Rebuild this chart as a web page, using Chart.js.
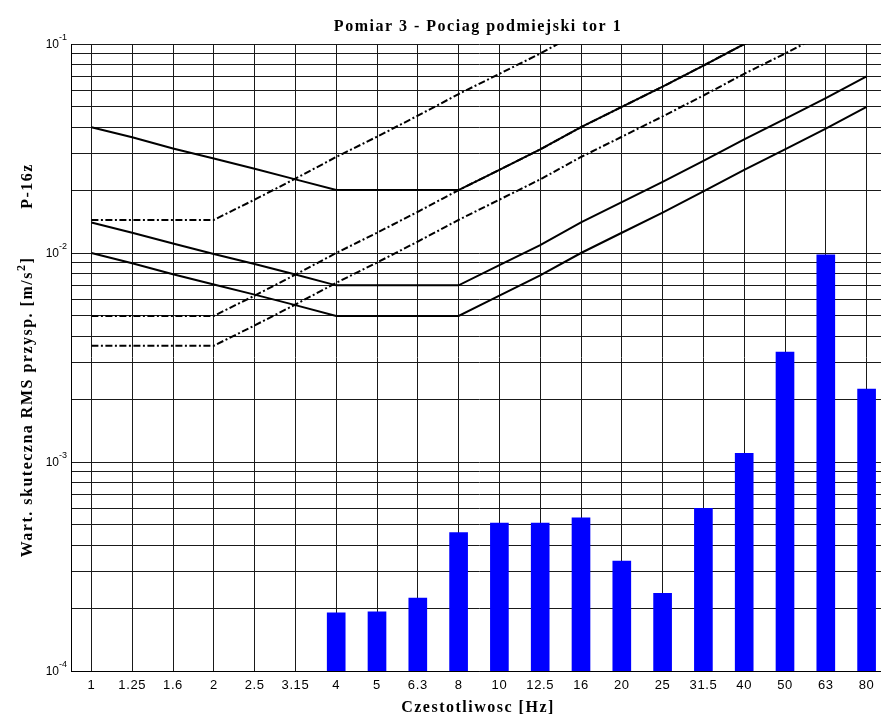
<!DOCTYPE html>
<html lang="pl">
<head>
<meta charset="UTF-8">
<title>Pomiar 3 - Pociag podmiejski tor 1</title>
<style>
  html, body { margin: 0; padding: 0; background: #fff; overflow: hidden; }
  #wrap { width: 890px; height: 720px; }
</style>
<script src="https://cdn.jsdelivr.net/npm/chart.js"></script>
</head>
<body>
<div id="wrap"><canvas id="chart" width="890" height="720"></canvas></div>
<script>
// third-octave bands [Hz]
const freqLabels = ['1', '1.25', '1.6', '2', '2.5', '3.15', '4', '5', '6.3', '8',
                    '10', '12.5', '16', '20', '25', '31.5', '40', '50', '63', '80'];

// measured RMS acceleration [m/s^2]
const measured = [null, null, null, null, null, null,
                  1.90e-4, 1.92e-4, 2.23e-4, 4.6e-4, 5.1e-4, 5.1e-4, 5.4e-4,
                  3.36e-4, 2.35e-4, 6.0e-4, 1.10e-3, 3.36e-3, 9.8e-3, 2.23e-3];

// limit curves, solid
const curveZ1 = [0.01, 0.00894, 0.00791, 0.00707, 0.00632, 0.00563, 0.005, 0.005, 0.005, 0.005,
                 0.00625, 0.00781, 0.01, 0.0125, 0.0156, 0.0197, 0.025, 0.0313, 0.0394, 0.05];
const curveZ14 = [0.014, 0.0125, 0.0111, 0.0099, 0.00885, 0.00789, 0.007, 0.007, 0.007, 0.007,
                  0.00875, 0.0109, 0.014, 0.0175, 0.0219, 0.0276, 0.035, 0.0438, 0.0551, 0.07];
const curveZ4 = [0.04, 0.0358, 0.0316, 0.0283, 0.0253, 0.0225, 0.02, 0.02, 0.02, 0.02,
                 0.025, 0.0313, 0.04, 0.05, 0.0625, 0.0788, 0.1, 0.125, 0.1575, 0.2];

// limit curves, dash-dot
const curveXY1 = [0.0036, 0.0036, 0.0036, 0.0036, 0.0045, 0.00567, 0.0072, 0.009, 0.01134, 0.0144,
                  0.018, 0.0225, 0.0288, 0.036, 0.045, 0.0567, 0.072, 0.09, 0.1134, 0.144];
const curveXY14 = [0.005, 0.005, 0.005, 0.005, 0.00625, 0.00788, 0.01, 0.0125, 0.01575, 0.02,
                   0.025, 0.0313, 0.04, 0.05, 0.0625, 0.0788, 0.1, 0.125, 0.1575, 0.2];
const curveXY4 = [0.0144, 0.0144, 0.0144, 0.0144, 0.018, 0.0227, 0.0288, 0.036, 0.0454, 0.0576,
                  0.072, 0.09, 0.115, 0.144, 0.18, 0.227, 0.288, 0.36, 0.454, 0.576];

// log grid: 1..9 per decade
const yTicks = [];
for (let e = -4; e < -1; e++) {
  for (let m = 1; m < 10; m++) yTicks.push(m * Math.pow(10, e));
}
yTicks.push(0.1);
const yDecades = [-1, -2, -3, -4];

const titleText = 'Pomiar 3 - Pociag podmiejski tor 1';
const xTitleText = 'Czestotliwosc [Hz]';
const sideText = 'P-16z';

const serif = '"Liberation Serif", "Times New Roman", serif';
const sans = '"Liberation Sans", Arial, sans-serif';

function lineSet(data, dashed) {
  return {
    type: 'line',
    data: data,
    borderColor: '#000',
    borderWidth: 2,
    borderDash: dashed ? [7, 2.5, 2, 2.5] : [],
    pointRadius: 0,
    fill: false,
    tension: 0,
    order: 0
  };
}

const decor = {
  id: 'decor',
  beforeDraw(chart) {
    chart.ctx.letterSpacing = '0.6px';
  },
  afterDraw(chart) {
    const ctx = chart.ctx;
    const y = chart.scales.y;
    ctx.save();
    ctx.fillStyle = '#000';
    ctx.letterSpacing = '0px';

    // 10^n labels
    yDecades.forEach(e => {
      const py = y.getPixelForValue(Math.pow(10, e));
      const ex = String(e);
      ctx.textAlign = 'left';
      ctx.textBaseline = 'middle';
      ctx.font = '9px ' + sans;
      const ew = ctx.measureText(ex).width;
      ctx.fillText(ex, 67 - ew, py - 6);
      ctx.font = '12px ' + sans;
      const bw = ctx.measureText('10').width;
      ctx.fillText('10', 67 - ew - bw, py + 1);
    });

    ctx.font = 'bold 16px ' + serif;
    ctx.letterSpacing = '1.5px';
    ctx.textAlign = 'center';
    ctx.textBaseline = 'alphabetic';
    ctx.fillText(titleText, 478, 31);
    ctx.fillText(xTitleText, 478, 712);

    // vertical texts
    ctx.save();
    ctx.translate(32, 186);
    ctx.rotate(-Math.PI / 2);
    ctx.fillText(sideText, 0, 0);
    ctx.restore();

    ctx.save();
    ctx.translate(32, 407);
    ctx.rotate(-Math.PI / 2);
    ctx.textAlign = 'left';
    const p1 = 'Wart. skuteczna RMS przysp. [m/s';
    const p2 = ']';
    const w1 = ctx.measureText(p1).width;
    ctx.font = 'bold 12px ' + serif;
    const ws = ctx.measureText('2').width;
    ctx.font = 'bold 16px ' + serif;
    const w2 = ctx.measureText(p2).width;
    const x0 = -(w1 + ws + w2) / 2;
    ctx.fillText(p1, x0, 0);
    ctx.font = 'bold 12px ' + serif;
    ctx.fillText('2', x0 + w1, -7);
    ctx.font = 'bold 16px ' + serif;
    ctx.fillText(p2, x0 + w1 + ws, 0);
    ctx.restore();

    ctx.restore();
  }
};

new Chart(document.getElementById('chart'), {
  data: {
    labels: freqLabels,
    datasets: [
      lineSet(curveZ1, false),
      lineSet(curveZ14, false),
      lineSet(curveZ4, false),
      lineSet(curveXY1, true),
      lineSet(curveXY14, true),
      lineSet(curveXY4, true),
      {
        type: 'bar',
        data: measured,
        backgroundColor: '#0000ff',
        borderWidth: 0,
        barThickness: 18,
        order: 1
      }
    ]
  },
  options: {
    responsive: false,
    animation: false,
    layout: { padding: { top: 44, left: 0, right: 3, bottom: 0 } },
    plugins: { legend: { display: false }, tooltip: { enabled: false } },
    scales: {
      x: {
        type: 'category',
        offset: true,
        grid: { offset: false, color: '#1a1a1a', lineWidth: 1, drawTicks: false },
        border: { color: '#000', width: 1 },
        ticks: {
          color: '#000',
          font: { family: sans, size: 13 },
          padding: 7,
          maxRotation: 0,
          autoSkip: false
        },
        afterFit(s) { s.height = 49; }
      },
      y: {
        type: 'logarithmic',
        min: 1e-4,
        max: 1e-1,
        afterBuildTicks(s) { s.ticks = yTicks.map(v => ({ value: v })); },
        grid: { color: '#1a1a1a', lineWidth: 1, drawTicks: false },
        border: { color: '#000', width: 1 },
        ticks: { callback: () => '', padding: 0 },
        afterFit(s) { s.width = 71; }
      }
    }
  },
  plugins: [decor]
});
</script>
</body>
</html>
